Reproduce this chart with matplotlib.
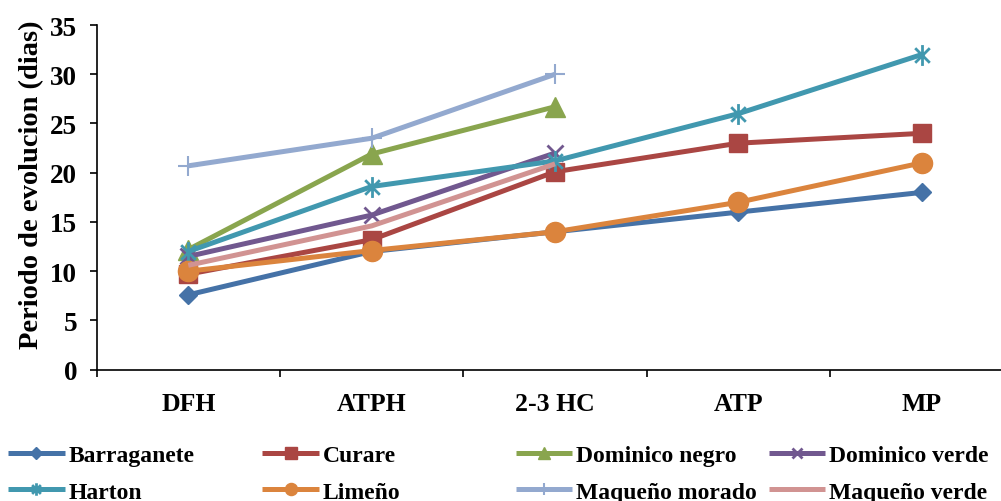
import matplotlib.pyplot as plt
from matplotlib.path import Path

plt.rcParams['font.family'] = ['Liberation Serif', 'DejaVu Serif']
plt.rcParams['font.weight'] = 'bold'

# categories (x axis)
stages = ['DFH', 'ATPH', '2-3 HC', 'ATP', 'MP']

# days per stage for each variety (some only reach 2-3 HC)
barraganete = [7.6, 12, 14, 16, 18]
curare = [9.7, 13.2, 20.1, 23, 24]
dominico_negro = [12.2, 21.9, 26.7]
dominico_verde = [11.5, 15.7, 22]
harton = [12, 18.6, 21.2, 26, 32]
limeno = [10, 12.1, 14, 17, 21]
maqueno_morado = [20.7, 23.5, 30]
maqueno_verde = [10.6, 14.6, 20.9]

names = ['Barraganete', 'Curare', 'Dominico negro', 'Dominico verde',
         'Harton', 'Limeño', 'Maqueño morado', 'Maqueño verde']
values = [barraganete, curare, dominico_negro, dominico_verde,
          harton, limeno, maqueno_morado, maqueno_verde]
colors = ['#4572A7', '#AA4643', '#89A54E', '#71588F',
          '#4198AF', '#DB843D', '#93A9CF', '#D19392']

# excel style star: vertical line plus an x
star = Path([(0, -1), (0, 1), (-0.7, -0.7), (0.7, 0.7), (-0.7, 0.7), (0.7, -0.7)],
            [Path.MOVETO, Path.LINETO, Path.MOVETO, Path.LINETO, Path.MOVETO, Path.LINETO])

styles = [
    dict(marker='D', ms=9.5),
    dict(marker='s', ms=13.5),
    dict(marker='^', ms=14),
    dict(marker='x', ms=12, mew=2),
    dict(marker=star, ms=15, mew=2, mfc='none'),
    dict(marker='o', ms=14.5),
    dict(marker='+', ms=15, mew=1.5),
    dict(marker=None),
]

fig = plt.figure(figsize=(10.01, 5.02), dpi=100)
ax = fig.add_axes([0.0965, 0.2616, 0.916, 0.6866])

lines = []
for name, vals, c, st in zip(names, values, colors, styles):
    ln, = ax.plot(range(len(vals)), vals, color=c, lw=3.6, label=name,
                  solid_capstyle='butt', **st)
    lines.append(ln)

ax.set_xlim(-0.5, 4.5)
ax.set_ylim(0, 35)
ax.set_yticks(range(0, 36, 5))
ax.set_xticks(range(len(stages)))
ax.set_xticklabels(stages)
ax.set_xticks([i - 0.5 for i in range(len(stages) + 1)], minor=True)
ax.tick_params(axis='x', which='major', length=0, pad=16, labelsize=18.5)
ax.tick_params(axis='x', which='minor', length=5, width=1.2, direction='out')
ax.tick_params(axis='y', length=5, width=1.2, direction='out', pad=9, labelsize=19.5)
for lab in ax.get_xticklabels() + ax.get_yticklabels():
    lab.set_fontweight('bold')

ax.spines['top'].set_visible(False)
ax.spines['right'].set_visible(False)
ax.spines['left'].set_linewidth(1.2)
ax.spines['bottom'].set_linewidth(1.2)

ax.set_ylabel('Periodo de evolucion (dias)', fontsize=20.5, fontweight='bold')
ax.yaxis.set_label_coords(-0.057, 0.54)

# legend: 4 columns of 2 rows, equally spaced like excel
col_x = [0.008, 0.262, 0.515, 0.768]
for j in range(4):
    fig.legend(handles=[lines[j], lines[j + 4]], loc='upper left',
               bbox_to_anchor=(col_x[j], 0.113), frameon=False,
               fontsize=17, handlelength=2.4, handletextpad=0.17,
               labelspacing=0.65, markerscale=0.6, borderaxespad=0,
               borderpad=0)

fig.savefig('out.png', dpi=100)
